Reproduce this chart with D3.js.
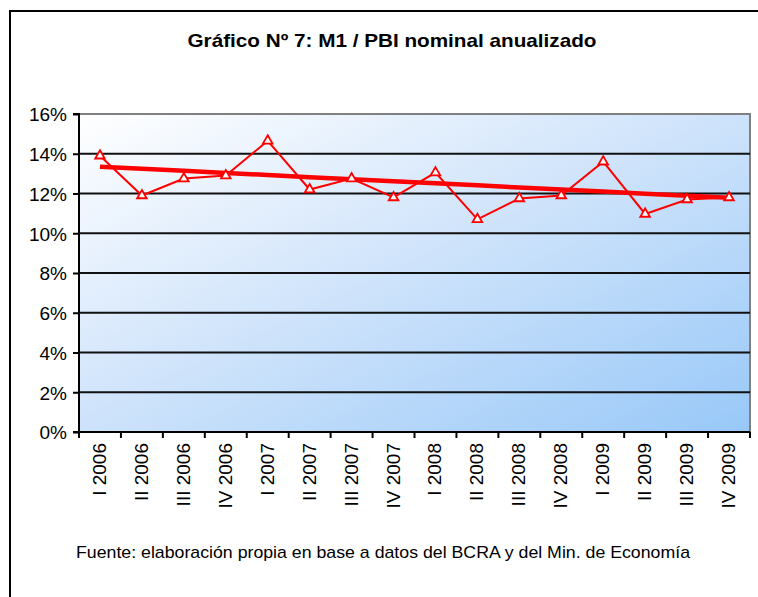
<!DOCTYPE html>
<html>
<head>
<meta charset="utf-8">
<script src="https://cdn.jsdelivr.net/npm/d3@7"></script>
<style>
  body { margin: 0; background: #fff; }
  svg { display: block; font-family: "Liberation Sans", Arial, sans-serif; }
</style>
</head>
<body>
<div id="chart"></div>
<script>
const quarters = ["I 2006", "II 2006", "III 2006", "IV 2006", "I 2007", "II 2007", "III 2007", "IV 2007",
  "I 2008", "II 2008", "III 2008", "IV 2008", "I 2009", "II 2009", "III 2009", "IV 2009"];
const ratio = [13.9, 11.9, 12.75, 12.9, 14.65, 12.2, 12.75, 11.8, 13.05, 10.7, 11.75, 11.9, 13.6, 10.97, 11.7, 11.8];
const trend = [13.35, 13.24, 13.14, 13.03, 12.93, 12.82, 12.72, 12.62, 12.51, 12.41, 12.3, 12.2, 12.1, 11.99, 11.89, 11.79];
const yTicks = [0, 2, 4, 6, 8, 10, 12, 14, 16];

const width = 758;
const height = 597;
const margin = { top: 114, right: 8, bottom: 165, left: 79 };

const svg = d3.select("#chart").append("svg")
  .attr("width", width)
  .attr("height", height);

// outer frame (top + left only visible)
svg.append("path")
  .attr("d", `M10,${height} L10,11 L${width},11`)
  .attr("fill", "none")
  .attr("stroke", "#000")
  .attr("stroke-width", 2);

svg.append("text")
  .attr("x", 392)
  .attr("y", 47)
  .attr("text-anchor", "middle")
  .style("font-size", "19px")
  .style("font-weight", "bold")
  .attr("textLength", 409)
  .attr("lengthAdjust", "spacingAndGlyphs")
  .text("Gráfico Nº 7: M1 / PBI nominal anualizado");

const x = d3.scaleBand()
  .domain(quarters)
  .range([margin.left, width - margin.right]);

const y = d3.scaleLinear()
  .domain([0, 16])
  .range([height - margin.bottom, margin.top]);

const defs = svg.append("defs");
const grad = defs.append("linearGradient")
  .attr("id", "bg")
  .attr("x1", "0%").attr("y1", "0%")
  .attr("x2", "100%").attr("y2", "100%");
grad.append("stop").attr("offset", "0%").attr("stop-color", "#ffffff");
grad.append("stop").attr("offset", "45%").attr("stop-color", "#d2e5fb");
grad.append("stop").attr("offset", "100%").attr("stop-color", "#98c8f8");

svg.append("rect")
  .attr("x", margin.left)
  .attr("y", margin.top)
  .attr("width", width - margin.right - margin.left)
  .attr("height", y(0) - y(16))
  .attr("fill", "url(#bg)");

// plot border top and right (gray)
svg.append("path")
  .attr("d", `M${margin.left},${y(16)} L${width - margin.right},${y(16)} L${width - margin.right},${y(0)}`)
  .attr("fill", "none")
  .attr("stroke", "#808080")
  .attr("stroke-width", 2);

// gridlines
svg.append("g")
  .selectAll("line")
  .data(yTicks.filter(d => d > 0 && d < 16))
  .join("line")
  .attr("x1", margin.left)
  .attr("x2", width - margin.right)
  .attr("y1", d => y(d))
  .attr("y2", d => y(d))
  .attr("stroke", "#111")
  .attr("stroke-width", 2);

// y axis
const yAxis = svg.append("g")
  .attr("transform", `translate(${margin.left},0)`)
  .call(d3.axisLeft(y).tickValues(yTicks).tickFormat(d => d + "%").tickSize(6).tickPadding(6));
yAxis.selectAll("line, path").attr("stroke", "#000").attr("stroke-width", 2);
yAxis.select(".domain").attr("d", `M-6,${y(16)}H0V${y(0)}`);
yAxis.selectAll("text")
  .attr("fill", "#000")
  .style("font-size", "19px")
  .attr("dy", "0.36em");

// x axis with ticks at band edges
const xAxis = svg.append("g")
  .attr("transform", `translate(0,${y(0)})`);
xAxis.append("line")
  .attr("x1", margin.left - 6)
  .attr("x2", width - margin.right)
  .attr("stroke", "#000")
  .attr("stroke-width", 2);
const edges = quarters.map(q => x(q)).concat([x(quarters[quarters.length - 1]) + x.bandwidth()]);
xAxis.selectAll(".tick-edge")
  .data(edges)
  .join("line")
  .attr("class", "tick-edge")
  .attr("x1", d => d)
  .attr("x2", d => d)
  .attr("y1", 0)
  .attr("y2", 6)
  .attr("stroke", "#000")
  .attr("stroke-width", 2);
xAxis.selectAll("text")
  .data(quarters)
  .join("text")
  .attr("transform", d => `translate(${x(d) + x.bandwidth() / 2 + 6},11) rotate(-90)`)
  .attr("text-anchor", "end")
  .style("font-size", "19px")
  .attr("fill", "#000")
  .text(d => d);

// trend line
const line = d3.line()
  .x((d, i) => x(quarters[i]) + x.bandwidth() / 2)
  .y(d => y(d));

svg.append("path")
  .datum(trend)
  .attr("d", line)
  .attr("fill", "none")
  .attr("stroke", "#ff0000")
  .attr("stroke-width", 4.5);

svg.append("path")
  .datum(ratio)
  .attr("d", line)
  .attr("fill", "none")
  .attr("stroke", "#ff0000")
  .attr("stroke-width", 2);

const tri = d3.symbol().type(d3.symbolTriangle).size(40);
svg.append("g")
  .selectAll("path")
  .data(ratio)
  .join("path")
  .attr("d", tri)
  .attr("transform", (d, i) => `translate(${x(quarters[i]) + x.bandwidth() / 2},${y(d)})`)
  .attr("fill", "#fff")
  .attr("stroke", "#ff0000")
  .attr("stroke-width", 1.8);

svg.append("text")
  .attr("x", 383)
  .attr("y", 558)
  .attr("text-anchor", "middle")
  .style("font-size", "17px")
  .attr("textLength", 614)
  .attr("lengthAdjust", "spacingAndGlyphs")
  .text("Fuente: elaboración propia en base a datos del BCRA y del Min. de Economía");
</script>
</body>
</html>
